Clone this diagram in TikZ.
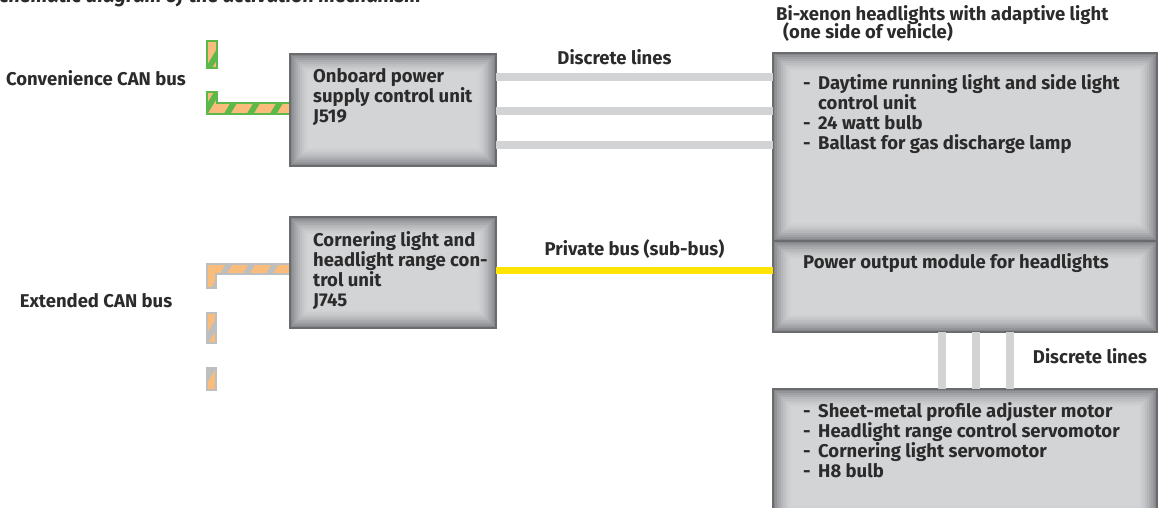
\documentclass[tikz,border=0pt]{standalone}
\usepackage{fontspec}
\setmainfont{Fira Sans}
\usetikzlibrary{calc}
\definecolor{boxfill}{HTML}{D3D4D6}
\definecolor{bevdark}{HTML}{85868A}
\definecolor{boxedge}{HTML}{6A6B6D}
\definecolor{lineg}{HTML}{D2D3D5}
\definecolor{busyellow}{HTML}{FFE400}
\definecolor{busgreen}{HTML}{5DB84A}
\definecolor{busorange}{HTML}{F9BC7A}
\definecolor{busgrey}{HTML}{BDBEC0}
\definecolor{txt}{HTML}{2B2B2B}
\newcommand\busfill[4]{%
  \begin{scope}
    \clip #4;
    \fill[#1] (150,0) rectangle (320,420);
    \foreach \k in {6,...,25}{%
      \fill[#2] ({\k*23},0) -- ++(16,0) -- ++(-270,450) -- ++(-16,0) -- cycle;}
  \end{scope}
  \draw[#3, line width=1.5pt] #4;}
\begin{document}
\begin{tikzpicture}[x=1pt,y=-1pt,
  every node/.style={font=\fontsize{18.5}{20}\selectfont\bfseries, text=txt, inner sep=0pt},
  unitbox/.style={rectangle, fill=boxfill, anchor=north west, inner sep=0pt, outer sep=0pt},
  lbl/.style={align=left, anchor=north west},
  discrete/.style={draw=lineg, line width=8pt},
  privbus/.style={draw=busyellow, line width=7.5pt}]
\useasboundingbox (0,0) rectangle (1158,508);

% title (cut by the page edge, as in the reference)
\node[anchor=base west, font=\fontsize{20}{22}\selectfont\bfseries\itshape] (title) at (-12,3) {Schematic diagram of the activation mechanism};

% CAN buses
\busfill{busgreen}{busorange}{busgreen}{(207,41) rectangle (217,68)}
\busfill{busgreen}{busorange}{busgreen}{(207,92) -- (217,92) -- (217,103) -- (290,103) -- (290,114) -- (207,114) -- cycle}
\busfill{busgrey}{busorange}{busgrey}{(207,264) -- (290,264) -- (290,274) -- (216,274) -- (216,288) -- (207,288) -- cycle}
\busfill{busgrey}{busorange}{busgrey}{(207,313) rectangle (216,343)}
\busfill{busgrey}{busorange}{busgrey}{(207,368) rectangle (216,390)}

% boxes
\node[unitbox, minimum width=206, minimum height=112] (j519) at (290,54) {};
\node[unitbox, minimum width=206, minimum height=111] (j745) at (290,217) {};
\node[unitbox, minimum width=384, minimum height=188] (hl) at (773,53) {};
\node[unitbox, minimum width=384, minimum height=91] (pom) at (773,241) {};
\node[unitbox, minimum width=384, minimum height=135] (mot) at (773,389) {};
\foreach \n in {j519,j745,hl,pom,mot}{%
  \foreach \i/\p in {0/100,1/82,2/66,3/52,4/39,5/28,6/18,7/10,8/4}{%
    \draw[line width=2pt, draw=bevdark!\p!boxfill] ([shift={(\i*2+1,\i*2+1)}]\n.north west) rectangle ([shift={(-\i*2-1,-\i*2-1)}]\n.south east);}
  \draw[boxedge, line width=1.5pt] (\n.north west) rectangle (\n.south east);}

% discrete lines J519 -> headlight
\foreach \o in {23,57,91}{%
  \coordinate (d\o) at ($(j519.north east)+(0,\o)$);
  \draw[discrete] (d\o) -- (d\o -| hl.west);}
% private bus
\coordinate (pb) at ($(j745.north east)+(0,53.5)$);
\draw[privbus] (pb) -- (pb -| pom.west);
% discrete lines power module -> motors
\foreach \o in {168.7,202.7,236.7}{%
  \coordinate (v) at ($(pom.south west)+(\o,0)$);
  \draw[discrete] (v) -- (v |- mot.north);}

% texts
\node[lbl] (t519) at ($(j519.north west)+(23,14)$) {Onboard power\\supply control unit\\J519};
\node[lbl] (t745) at ($(j745.north west)+(23,14)$) {Cornering light and\\headlight range con-\\trol unit\\J745};
\node[lbl] (thl) at ($(hl.north west)+(30,21)$) {\makebox[15pt][l]{-}Daytime running light and side light\\\hspace*{15pt}control unit\\\makebox[15pt][l]{-}24 watt bulb\\\makebox[15pt][l]{-}Ballast for gas discharge lamp};
\node[lbl] (tpom) at ($(pom.north west)+(30,12)$) {Power output module for headlights};
\node[lbl] (tmot) at ($(mot.north west)+(30,13)$) {\makebox[15pt][l]{-}Sheet-metal profile adjuster motor\\\makebox[15pt][l]{-}Headlight range control servomotor\\\makebox[15pt][l]{-}Cornering light servomotor\\\makebox[15pt][l]{-}H8 bulb};

\node[anchor=base west] (head) at (776,21) {Bi-xenon headlights with adaptive light};
\node[anchor=base west] (sub) at (783,39) {(one side of vehicle)};
\node[anchor=base] (conv) at (96,86) {Convenience CAN bus};
\node[anchor=base] (ext) at (96,307) {Extended CAN bus};
\node[anchor=base] (dl1) at (614.5,65) {Discrete lines};
\node[anchor=base] (prv) at (634.5,255) {Private bus (sub-bus)};
\node[anchor=base] (dl2) at (1090,363) {Discrete lines};
\end{tikzpicture}
\end{document}
